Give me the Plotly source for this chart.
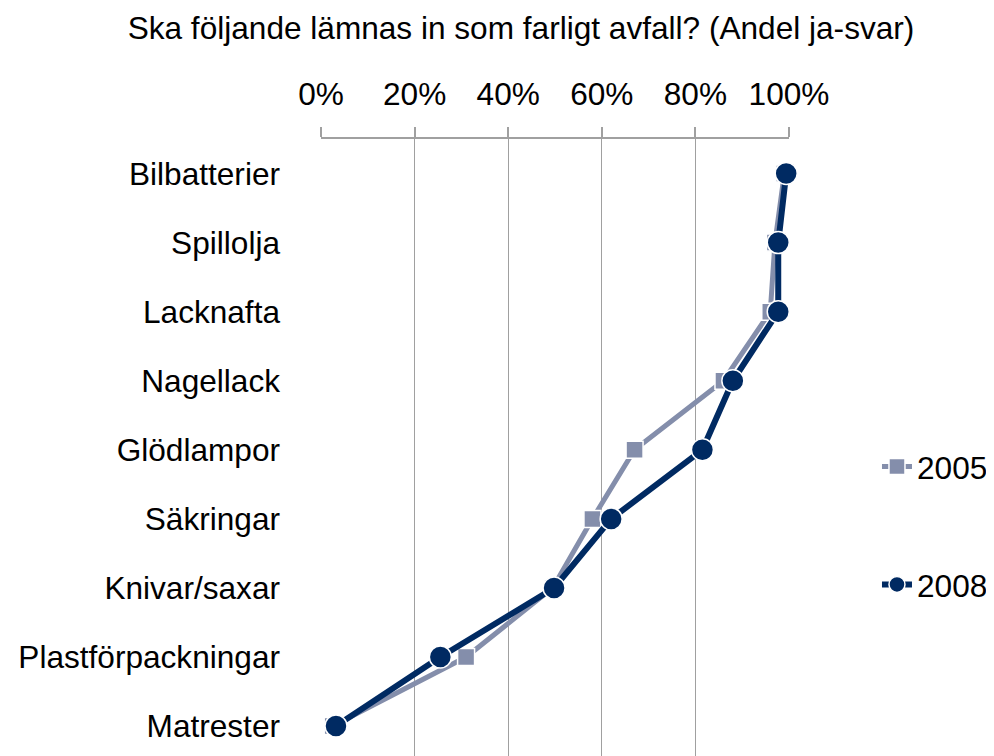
import plotly.graph_objects as go

categories = ["Bilbatterier", "Spillolja", "Lacknafta", "Nagellack", "Glödlampor",
              "Säkringar", "Knivar/saxar", "Plastförpackningar", "Matrester"]
values_2005 = [99.0, 97.0, 96.0, 86.0, 67.0, 58.0, 49.5, 31.0, 2.5]
values_2008 = [99.4, 97.7, 97.7, 88.0, 81.5, 62.0, 49.8, 25.5, 3.2]
x_ticks = [0, 20, 40, 60, 80, 100]
x_tick_labels = ["0%", "20%", "40%", "60%", "80%", "100%"]
title_text = "Ska följande lämnas in som farligt avfall? (Andel ja-svar)"

C2005 = "#848eab"
C2008 = "#002a62"
GRID = "#a0a0a0"
FONT = "Liberation Sans, Arial, sans-serif"
FS = 31.6

fig = go.Figure()
fig.add_trace(go.Scatter(
    x=values_2005, y=categories, name="2005", mode="lines+markers",
    line=dict(color=C2005, width=5),
    marker=dict(symbol="square", size=17, color=C2005, line=dict(color="white", width=1.5)),
    legendgroup="a", cliponaxis=False,
))
fig.add_trace(go.Scatter(
    x=values_2008, y=categories, name="2008", mode="lines+markers",
    line=dict(color=C2008, width=6),
    marker=dict(symbol="circle", size=22, color=C2008, line=dict(color="white", width=1.5)),
    legendgroup="b", cliponaxis=False,
))

fig.update_layout(
    width=994, height=756,
    margin=dict(l=313, r=213, t=131, b=8),
    paper_bgcolor="white", plot_bgcolor="white",
    font=dict(family=FONT, size=FS, color="black"),
    title=dict(text=title_text, x=513/994, xanchor="center", xref="container",
               y=1-20/756, yanchor="middle", yref="container",
               font=dict(family=FONT, size=FS, color="black")),
    showlegend=True,
    legend=dict(x=1.188, xanchor="left", y=0.373, yanchor="middle",
                font=dict(family=FONT, size=FS, color="black"),
                tracegroupgap=74, bgcolor="rgba(0,0,0,0)"),
)
fig.update_xaxes(
    range=[0, 100], side="top", tickvals=x_ticks, ticktext=x_tick_labels,
    showgrid=True, gridcolor=GRID, gridwidth=1.2,
    zeroline=False, showline=True, linecolor=GRID, linewidth=2,
    ticks="outside", ticklen=10, tickcolor=GRID, tickwidth=1.5,
    ticklabelstandoff=9,
    tickfont=dict(family=FONT, size=FS, color="black"),
)
fig.update_yaxes(
    type="category", categoryorder="array", categoryarray=categories,
    range=[8.433, -0.5], showgrid=False, zeroline=False, showline=False,
    ticks="", ticklabelstandoff=40,
    tickfont=dict(family=FONT, size=FS, color="black"),
)
fig.write_html("out.html")
